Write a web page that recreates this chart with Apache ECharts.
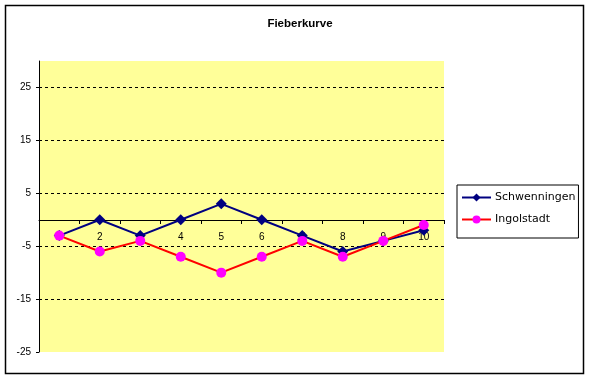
<!DOCTYPE html>
<html><head><meta charset="utf-8">
<script src="https://cdn.jsdelivr.net/npm/echarts@6/dist/echarts.min.js"></script>
<style>html,body{margin:0;padding:0;background:#fff}#c{width:589px;height:378px}</style>
</head><body><div id="c"></div>
<script>
var categories = ['1','2','3','4','5','6','7','8','9','10'];
var schwenningen = [-3, 0, -3, 0, 3, 0, -3, -6, -4, -2];
var ingolstadt = [-3, -6, -4, -7, -10, -7, -4, -7, -4, -1];
var chartTitle = 'Fieberkurve';
var seriesNames = ['Schwenningen', 'Ingolstadt'];

var chart = echarts.init(document.getElementById('c'), null, {renderer: 'canvas'});
chart.setOption({
  animation: false,
  backgroundColor: '#fff',
  title: {
    text: chartTitle, left: 295, top: 13, textAlign: 'center',
    textStyle: {fontFamily: 'Liberation Sans', fontSize: 11.5, fontWeight: 'bold', color: '#000'}
  },
  legend: {
    orient: 'vertical', left: 457, top: 185,
    borderColor: '#000', borderWidth: 1, padding: [7, 3, 13, 4],
    itemWidth: 29, itemHeight: 10, itemGap: 11,
    textStyle: {fontFamily: 'DejaVu Sans', fontSize: 11, color: '#000', padding: [0,0,0,-1]},
    data: seriesNames
  },
  graphic: [{
    type: 'rect', shape: {x: 5.5, y: 5.5, width: 578, height: 368},
    style: {fill: 'none', stroke: '#000', lineWidth: 1.5}, silent: true, z: -1
  }],
  grid: {left: 39, right: 145, top: 61, bottom: 26, show: true, backgroundColor: '#FFFF99', borderWidth: 0},
  xAxis: {
    type: 'category', data: categories, boundaryGap: true,
    offset: -132,
    axisLine: {onZero: false, lineStyle: {color: '#000', width: 1}},
    axisTick: {show: true, length: 4, lineStyle: {color: '#000'}},
    axisLabel: {fontFamily: 'Liberation Sans', fontSize: 10, color: '#000', margin: 12},
    splitLine: {show: false}
  },
  yAxis: {
    type: 'value', min: -25, max: 30, interval: 10,
    axisLine: {show: true, lineStyle: {color: '#000'}},
    axisTick: {show: true, length: 3, lineStyle: {color: '#000'}},
    axisLabel: {fontFamily: 'Liberation Sans', fontSize: 10, color: '#000', margin: 8, showMaxLabel: false},
    splitLine: {show: true, lineStyle: {type: [3, 3], width: 1,
      color: ['rgba(0,0,0,0)', '#000', '#000', '#000', '#000', '#000', 'rgba(0,0,0,0)']}}
  },
  series: [{
    name: seriesNames[0], type: 'line', data: schwenningen,
    symbol: 'diamond', symbolSize: 11,
    lineStyle: {color: '#000080', width: 2},
    itemStyle: {color: '#000080'}, z: 3
  }, {
    name: seriesNames[1], type: 'line', data: ingolstadt,
    symbol: 'circle', symbolSize: 10,
    lineStyle: {color: '#FF0000', width: 2},
    itemStyle: {color: '#FF00FF'}, z: 4
  }]
});
</script></body></html>
